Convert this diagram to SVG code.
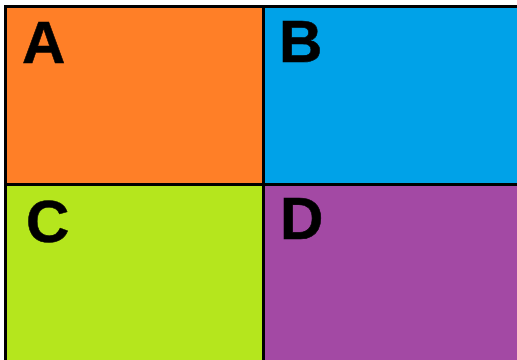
<svg xmlns="http://www.w3.org/2000/svg" width="517" height="360" viewBox="0 0 517 360">
<style>
.q{stroke:#000;stroke-width:3}
.l{font-family:"Liberation Sans",Arial,sans-serif;font-weight:bold;font-size:60px;fill:#000;stroke:#000;stroke-width:0.6}
</style>
<rect width="517" height="360" fill="#fff"/>
<g id="A"><rect class="q" x="5.5" y="6.5" width="258" height="178" fill="#FF7F27"/><text class="l" x="22" y="63">A</text></g>
<g id="B"><rect class="q" x="263.5" y="6.5" width="260" height="178" fill="#00A2E8"/><text class="l" x="279" y="62">B</text></g>
<g id="C"><rect class="q" x="5.5" y="184.5" width="258" height="180" fill="#B5E61D"/><text class="l" x="26" y="242">C</text></g>
<g id="D"><rect class="q" x="263.5" y="184.5" width="260" height="180" fill="#A349A4"/><text class="l" x="280" y="239">D</text></g>
<g id="connectors"/>
</svg>
